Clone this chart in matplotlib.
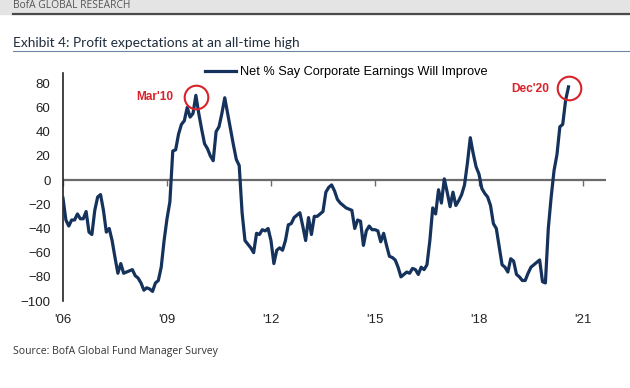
import numpy as np
import matplotlib.pyplot as plt
from matplotlib.lines import Line2D
from matplotlib.patches import Rectangle

# Net % of fund managers saying corporate earnings will improve, monthly May-2006 .. Dec-2020
net_pct = [
    -15, -33, -38, -33, -33, -28, -32, -32, -26, -43, -45, -25,
    -14, -12, -25, -43, -40, -50, -64, -77, -69, -77, -76, -75,
    -74, -79, -81, -85, -91, -89, -90, -92, -85, -83, -72, -50,
    -32, -18, 24, 25, 38, 46, 49, 60, 52, 55, 70, 55,
    42, 30, 26, 20, 16, 40, 44, 55, 68, 55, 42, 29,
    17, 12, -27, -50, -53, -56, -60, -44, -45, -41, -42, -40,
    -50, -69, -58, -56, -58, -50, -37, -36, -31, -29, -27, -38,
    -50, -31, -45, -30, -30, -28, -26, -10, -6, -4, -9, -16,
    -19, -21, -23, -24, -25, -40, -33, -34, -54, -42, -38, -41,
    -41, -42, -51, -44, -54, -63, -64, -66, -72, -80, -78, -76,
    -77, -73, -74, -78, -72, -74, -70, -50, -23, -28, -8, -19,
    1, -10, -22, -10, -21, -17, -12, -4, 14, 35, 22, 11,
    5, -7, -11, -14, -21, -36, -40, -55, -70, -72, -76, -65,
    -67, -78, -80, -83, -83, -77, -72, -70, -68, -66, -84, -85,
    -40, -14, 8, 21, 44, 46, 66, 77,
]
months = np.arange(len(net_pct))

tick_pos = [0, 36, 72, 108, 144, 180]
tick_labels = ["'06", "'09", "'12", "'15", "'18", "'21"]
y_ticks = [80, 60, 40, 20, 0, -20, -40, -60, -80, -100]

callouts = [(46, "Mar'10"), (175, "Dec'20")]

navy = "#15325c"
red = "#d8232a"

plt.rcParams['font.family'] = ['Liberation Sans', 'DejaVu Sans']

fig = plt.figure(figsize=(6.3, 3.88), dpi=100)

# header band
fig.patches.append(Rectangle((0, 0.965), 1, 0.035, transform=fig.transFigure,
                             color="#e4e4e4", zorder=0))
fig.text(0.021, 0.986, "BofA GLOBAL RESEARCH", fontsize=7.4, color="#555555",
         va="center", ha="left", fontfamily="Open Sans")
fig.add_artist(Line2D([0.021, 1.0], [0.963, 0.963], transform=fig.transFigure,
                      color="#4a4a4a", lw=1.6))

fig.text(0.021, 0.889, "Exhibit 4: Profit expectations at an all-time high",
         fontsize=9.9, color="#1f2d3d", fontfamily="Lato", va="center", ha="left")
fig.add_artist(Line2D([0.021, 1.0], [0.869, 0.869], transform=fig.transFigure,
                      color="#6d86a3", lw=0.8))

fig.text(0.021, 0.093, "Source: BofA Global Fund Manager Survey",
         fontsize=7.5, color="#333333", fontfamily="Open Sans", va="center", ha="left")

ax = fig.add_axes([0.1, 0.224, 0.862, 0.588])
ax.plot(months, net_pct, color=navy, lw=2.3, zorder=3,
        label="Net % Say Corporate Earnings Will Improve")

ax.set_xlim(0, 188)
ax.set_ylim(-100, 88.5)

# zero line with tick marks hanging below it
ax.axhline(0, color="#6b6b6b", lw=1.6, zorder=2)
ax.plot(tick_pos, [0] * len(tick_pos), ls="", marker=3, ms=4, mew=1,
        color="#6b6b6b", zorder=2)

ax.set_xticks(tick_pos)
ax.set_xticklabels(tick_labels)
ax.set_yticks(y_ticks)
ax.tick_params(axis="x", length=0, pad=9, labelsize=9.5, colors="#222222")
ax.tick_params(axis="y", length=0, pad=9, labelsize=9.5, colors="#222222")

for side in ["top", "right", "bottom"]:
    ax.spines[side].set_visible(False)
ax.spines["left"].set_color("#222222")
ax.spines["left"].set_linewidth(1.2)

for idx, txt in callouts:
    ax.plot(months[idx], net_pct[idx] - 1, marker="o", ms=17, mfc="none",
            mec=red, mew=1.5, zorder=4)
ax.text(callouts[0][0] - 14.3, 69, callouts[0][1], color=red, fontsize=8.6,
        fontweight="bold", ha="center", va="center")
ax.text(callouts[1][0] - 13.3, 75, callouts[1][1], color=red, fontsize=8.6,
        fontweight="bold", ha="center", va="center")

leg = ax.legend(loc="upper center", bbox_to_anchor=(0.522, 1.08), frameon=False,
                fontsize=9.2, handlelength=2.4, handletextpad=0.3)

fig.savefig("out.png", dpi=100)
